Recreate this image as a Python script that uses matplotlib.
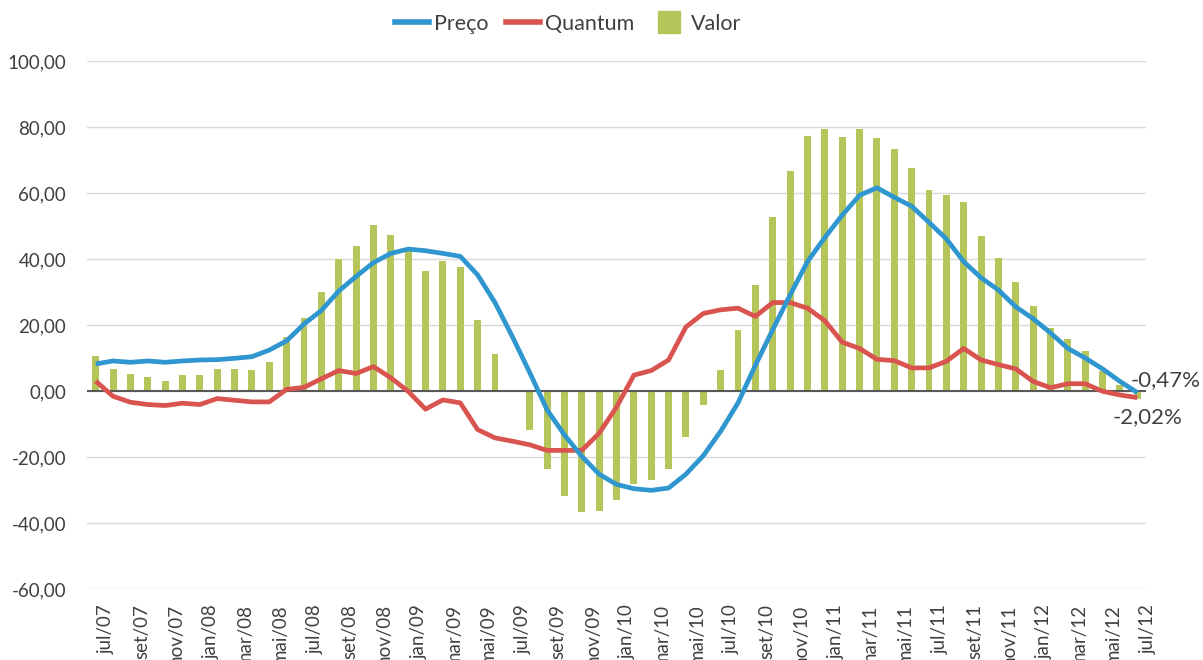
import numpy as np
import matplotlib.pyplot as plt
from matplotlib.lines import Line2D
from matplotlib.transforms import ScaledTranslation

plt.rcParams['font.family'] = ['Lato', 'DejaVu Sans']

meses = ['jul', 'ago', 'set', 'out', 'nov', 'dez', 'jan', 'fev', 'mar', 'abr', 'mai', 'jun']
categorias = []
for k in range(61):
    m = meses[k % 12]
    ano = 7 + (k + 6) // 12
    categorias.append(f"{m}/{ano:02d}")

valor = [10.6, 6.7, 5.1, 4.2, 2.9, 4.7, 4.7, 6.7, 6.7, 6.3,
         8.8, 16.3, 22.0, 30.1, 40.0, 43.8, 50.3, 47.3, 42.5, 36.3,
         39.5, 37.6, 21.5, 11.3, 0.2, -11.7, -23.6, -31.7, -36.7, -36.4,
         -33.0, -28.2, -27.0, -23.6, -13.8, -4.3, 6.3, 18.6, 32.2, 52.8,
         66.6, 77.4, 79.4, 77.0, 79.4, 76.6, 73.2, 67.6, 60.9, 59.4,
         57.3, 46.9, 40.4, 33.0, 25.7, 19.1, 15.7, 12.0, 6.2, 1.8,
         -2.5]

preco = [8.2, 9.1, 8.7, 9.1, 8.7, 9.1, 9.4, 9.5, 9.9, 10.4,
         12.4, 15.2, 20.3, 24.4, 30.3, 34.7, 38.9, 41.7, 43.0, 42.5,
         41.7, 40.8, 35.2, 26.8, 16.5, 5.6, -5.7, -13.3, -19.8, -25.2,
         -28.3, -29.6, -30.1, -29.4, -25.2, -19.6, -12.2, -3.6, 7.8, 18.6,
         29.1, 39.2, 46.5, 53.3, 59.3, 61.6, 58.7, 56.0, 51.1, 46.1,
         39.2, 34.3, 30.6, 25.5, 21.9, 17.6, 12.9, 10.0, 6.7, 2.9,
         -0.47]

quantum = [3.0, -1.6, -3.4, -4.1, -4.4, -3.7, -4.1, -2.3, -2.8, -3.3,
           -3.3, 0.5, 1.1, 3.7, 6.2, 5.3, 7.4, 4.0, -0.1, -5.5,
           -2.7, -3.6, -11.7, -14.2, -15.2, -16.3, -18.0, -18.0, -18.0, -12.8,
           -4.9, 4.8, 6.2, 9.4, 19.4, 23.5, 24.6, 25.1, 22.6, 26.8,
           26.8, 25.1, 21.3, 14.8, 12.9, 9.6, 9.2, 7.0, 7.0, 9.0,
           12.9, 9.4, 8.0, 6.7, 2.9, 1.0, 2.2, 2.2, -0.1, -1.2,
           -2.02]

rotulos_finais = ['-0,47%', '-2,02%']

azul = '#2F96D0'
vermelho = '#D9534F'
verde = '#B5C55A'
texto = '#404040'

fig = plt.figure(figsize=(12.03, 6.60), dpi=100)
ax = fig.add_axes([87 / 1203, 1 - 589 / 660, (1146 - 87) / 1203, (589 - 61) / 660])

x = np.arange(len(categorias))
ax.bar(x, valor, width=0.4, color=verde, zorder=2)
ax.plot(x, preco, color=azul, lw=3.4, zorder=4, solid_capstyle='butt')
ax.plot(x, quantum, color=vermelho, lw=3.4, zorder=3, solid_capstyle='butt')
ax.axhline(0, color='#595959', lw=1.5, zorder=2.5)

ax.set_xlim(-0.5, len(categorias) - 0.5)
ax.set_ylim(-60, 100)
ax.set_yticks(np.arange(-60, 101, 20))
ax.set_yticklabels([f"{v:.2f}".replace('.', ',') for v in np.arange(-60, 101, 20)])
ax.yaxis.grid(True, color='#D9D9D9', lw=1.0)
ax.set_axisbelow(True)
for s in ax.spines.values():
    s.set_visible(False)

ax.set_xticks(x[::2])
ax.set_xticklabels(categorias[::2], rotation=90, va='top', ha='center')
ax.tick_params(axis='x', length=0, pad=11, labelsize=13.5, labelcolor=texto)
ax.tick_params(axis='y', length=0, pad=15, labelsize=13.5, labelcolor=texto)
desloca = ScaledTranslation(11 / 100, 0, fig.dpi_scale_trans)
for lab in ax.get_xticklabels():
    lab.set_transform(lab.get_transform() + desloca)

ax.annotate(rotulos_finais[0], xy=(x[-1], preco[-1]), xytext=(-7, 12),
            textcoords='offset pixels', ha='left', va='center', fontsize=16, color=texto)
ax.annotate(rotulos_finais[1], xy=(x[-1], quantum[-1]), xytext=(-25, -19),
            textcoords='offset pixels', ha='left', va='center', fontsize=16, color=texto)

handles = [Line2D([], [], color=azul, lw=4),
           Line2D([], [], color=vermelho, lw=4),
           Line2D([], [], color=verde, marker='s', ls='', markersize=16)]
fig.legend(handles, ['Preço', 'Quantum', 'Valor'], loc='center', ncol=3,
           bbox_to_anchor=(568 / 1203, 1 - 24 / 660), frameon=False,
           fontsize=15.5, handlelength=1.58, handletextpad=0.25, columnspacing=0.8,
           labelcolor=texto)

fig.savefig('out.png', dpi=100)
